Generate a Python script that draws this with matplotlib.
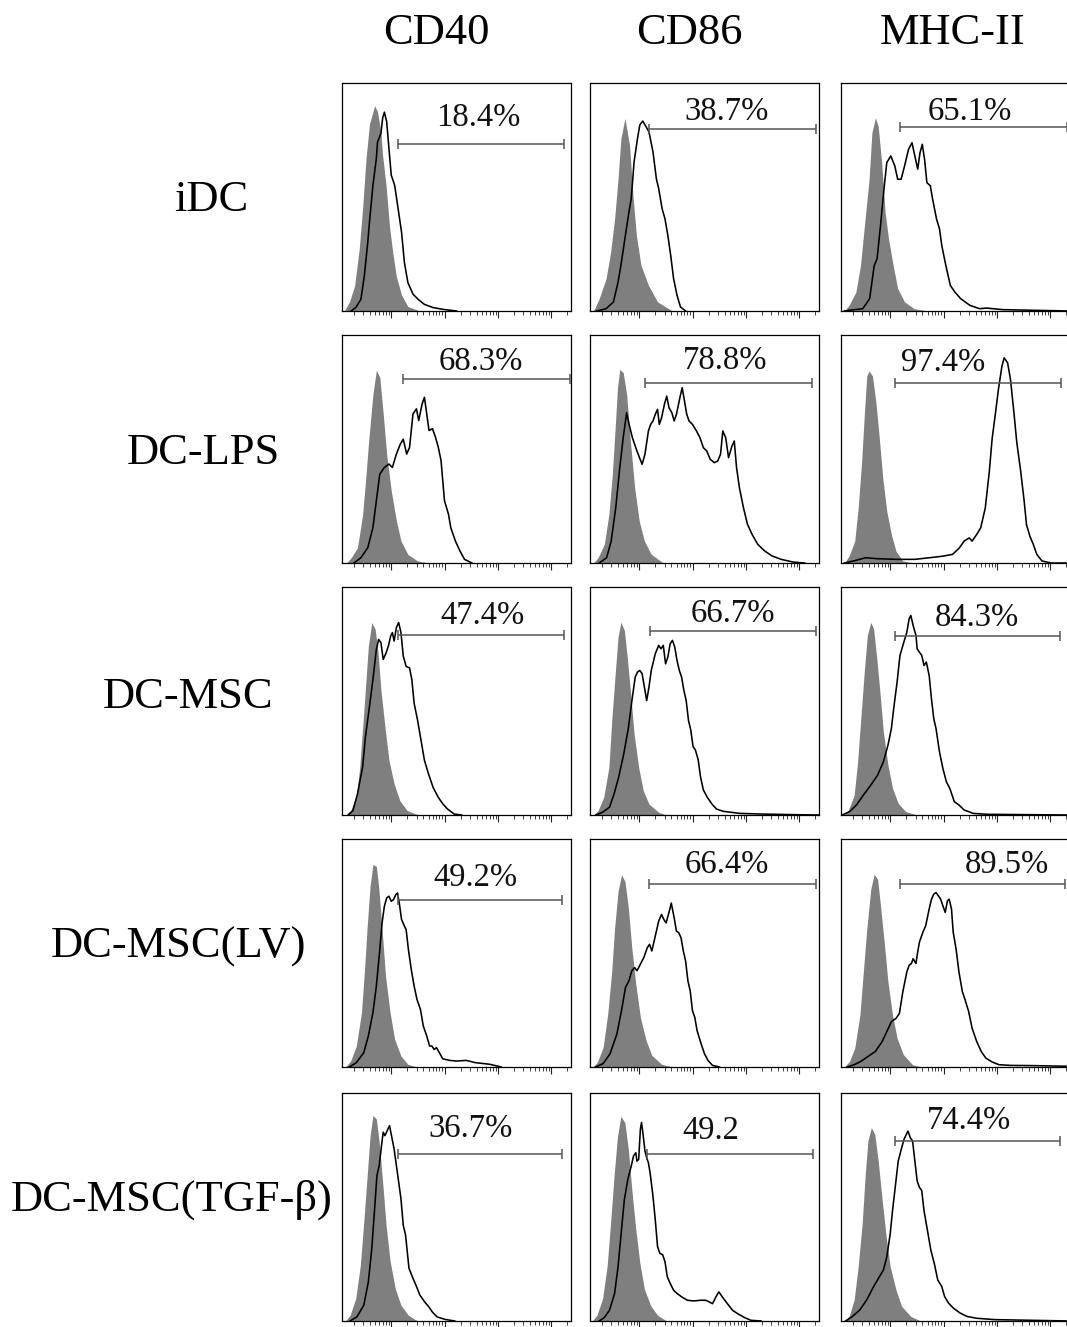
import matplotlib
matplotlib.use('Agg')
import matplotlib.pyplot as plt
import numpy as np

plt.rcParams['font.family'] = ['Liberation Serif', 'DejaVu Serif']

# ---------------- data ----------------
MARKERS = ['CD40', 'CD86', 'MHC-II']
GROUPS = ['iDC', 'DC-LPS', 'DC-MSC', 'DC-MSC(LV)', 'DC-MSC(TGF-β)']

PERCENT = [['18.4%', '38.7%', '65.1%'],
           ['68.3%', '78.8%', '97.4%'],
           ['47.4%', '66.7%', '84.3%'],
           ['49.2%', '66.4%', '89.5%'],
           ['36.7%', '49.2', '74.4%']]

# gate limits on the 0-4 decade display scale, and gate height (fraction of max)
GATE_LO = [[0.98, 1.03, 1.03], [1.06, 0.96, 0.94], [0.97, 1.04, 0.95],
           [0.98, 1.03, 1.03], [0.97, 1.00, 0.94]]
GATE_HI = [[3.87, 3.94, 3.94], [3.98, 3.88, 3.84], [3.88, 3.94, 3.82],
           [3.85, 3.94, 3.92], [3.84, 3.90, 3.82]]
GATE_Y = [[0.731, 0.800, 0.806], [0.805, 0.791, 0.791], [0.788, 0.805, 0.784],
          [0.731, 0.802, 0.804], [0.733, 0.731, 0.790]]

# histograms: (log fluorescence on 0-4 display scale, relative count)
idc_cd40_iso = ([0.04, 0.13, 0.22, 0.30, 0.36, 0.42, 0.48, 0.57, 0.62, 0.68, 0.71, 0.77, 0.83, 0.89, 0.95, 1.04, 1.15, 1.36],
                [0.0, 0.04, 0.11, 0.27, 0.45, 0.67, 0.82, 0.90, 0.875, 0.78, 0.68, 0.55, 0.37, 0.25, 0.15, 0.07, 0.02, 0.0])
idc_cd40 = ([0.16, 0.24, 0.33, 0.39, 0.45, 0.48, 0.54, 0.60, 0.62, 0.68, 0.71, 0.74, 0.78, 0.83, 0.86, 0.92, 0.98, 1.04, 1.09, 1.15, 1.24, 1.33, 1.44, 1.59, 1.77, 2.0],
            [0.0, 0.015, 0.051, 0.154, 0.301, 0.390, 0.551, 0.669, 0.74, 0.779, 0.846, 0.872, 0.831, 0.684, 0.596, 0.551, 0.449, 0.346, 0.213, 0.125, 0.074, 0.051, 0.029, 0.015, 0.007, 0.0])
idc_cd86_iso = ([0.04, 0.08, 0.16, 0.28, 0.36, 0.43, 0.49, 0.54, 0.61, 0.69, 0.75, 0.81, 0.89, 1.02, 1.18, 1.42, 1.6],
                [0.0, 0.01, 0.054, 0.142, 0.258, 0.405, 0.581, 0.757, 0.845, 0.728, 0.508, 0.332, 0.201, 0.113, 0.040, 0.003, 0.0])
idc_cd86 = ([0.12, 0.28, 0.41, 0.49, 0.54, 0.61, 0.68, 0.72, 0.77, 0.83, 0.87, 0.92, 0.98, 1.03, 1.10, 1.16, 1.20, 1.26, 1.31, 1.36, 1.41, 1.46, 1.52, 1.58, 1.67],
            [0.0, 0.010, 0.040, 0.127, 0.200, 0.318, 0.434, 0.493, 0.654, 0.757, 0.816, 0.833, 0.808, 0.786, 0.698, 0.579, 0.537, 0.448, 0.404, 0.331, 0.243, 0.142, 0.069, 0.018, 0.0])
idc_mhc_iso = ([0.06, 0.14, 0.26, 0.34, 0.42, 0.49, 0.54, 0.60, 0.65, 0.71, 0.77, 0.83, 0.91, 0.99, 1.11, 1.28, 1.52],
               [0.0, 0.025, 0.083, 0.199, 0.402, 0.576, 0.782, 0.847, 0.811, 0.651, 0.433, 0.317, 0.201, 0.099, 0.040, 0.010, 0.0])
idc_mhc = ([0.06, 0.14, 0.38, 0.50, 0.58, 0.63, 0.69, 0.75, 0.80, 0.87, 0.94, 0.99, 1.05, 1.11, 1.18, 1.24, 1.29, 1.34, 1.38, 1.42, 1.46, 1.50, 1.56, 1.60, 1.67, 1.72, 1.76, 1.83, 1.91, 1.99, 2.09, 2.25, 2.42, 2.54, 2.66, 2.82, 3.39, 4.0],
           [0.0, 0.003, 0.010, 0.054, 0.199, 0.229, 0.374, 0.534, 0.651, 0.680, 0.636, 0.578, 0.578, 0.636, 0.709, 0.738, 0.680, 0.622, 0.694, 0.731, 0.665, 0.563, 0.549, 0.491, 0.402, 0.361, 0.288, 0.201, 0.112, 0.083, 0.054, 0.025, 0.010, 0.013, 0.010, 0.006, 0.003, 0.0])

lps_cd40_iso = ([0.08, 0.16, 0.27, 0.36, 0.41, 0.47, 0.54, 0.60, 0.66, 0.72, 0.78, 0.86, 0.95, 1.03, 1.15, 1.32, 1.53],
                [0.0, 0.023, 0.067, 0.211, 0.358, 0.548, 0.739, 0.845, 0.815, 0.654, 0.478, 0.317, 0.185, 0.097, 0.038, 0.009, 0.0])
lps_cd40 = ([0.21, 0.33, 0.45, 0.54, 0.60, 0.66, 0.74, 0.82, 0.88, 0.95, 1.02, 1.07, 1.13, 1.18, 1.24, 1.30, 1.34, 1.40, 1.44, 1.48, 1.52, 1.58, 1.63, 1.68, 1.73, 1.79, 1.86, 1.90, 1.98, 2.06, 2.14, 2.27],
            [0.0, 0.023, 0.067, 0.155, 0.273, 0.390, 0.419, 0.434, 0.419, 0.478, 0.522, 0.543, 0.478, 0.507, 0.654, 0.676, 0.625, 0.698, 0.727, 0.654, 0.581, 0.589, 0.554, 0.510, 0.449, 0.273, 0.214, 0.155, 0.097, 0.053, 0.016, 0.0])
lps_cd86_iso = ([0.06, 0.14, 0.25, 0.33, 0.39, 0.44, 0.48, 0.52, 0.58, 0.64, 0.70, 0.78, 0.86, 0.95, 1.07, 1.28],
                [0.0, 0.023, 0.082, 0.213, 0.389, 0.594, 0.769, 0.849, 0.835, 0.740, 0.550, 0.330, 0.184, 0.096, 0.038, 0.0])
lps_cd86 = ([0.16, 0.29, 0.37, 0.45, 0.52, 0.58, 0.64, 0.68, 0.74, 0.82, 0.91, 0.96, 1.02, 1.06, 1.10, 1.14, 1.18, 1.21, 1.25, 1.30, 1.34, 1.38, 1.43, 1.47, 1.51, 1.57, 1.61, 1.65, 1.69, 1.73, 1.79, 1.86, 1.92, 1.98, 2.04, 2.10, 2.17, 2.23, 2.28, 2.32, 2.37, 2.42, 2.48, 2.52, 2.56, 2.61, 2.68, 2.75, 2.83, 2.93, 3.05, 3.18, 3.34, 3.55, 3.75],
            [0.0, 0.023, 0.096, 0.243, 0.418, 0.550, 0.659, 0.611, 0.550, 0.491, 0.433, 0.477, 0.579, 0.608, 0.623, 0.652, 0.674, 0.608, 0.637, 0.696, 0.732, 0.681, 0.659, 0.623, 0.652, 0.725, 0.769, 0.711, 0.652, 0.623, 0.608, 0.579, 0.550, 0.506, 0.491, 0.455, 0.440, 0.447, 0.477, 0.579, 0.550, 0.462, 0.513, 0.535, 0.418, 0.330, 0.243, 0.170, 0.126, 0.082, 0.053, 0.031, 0.016, 0.004, 0.0])
lps_mhc_iso = ([0.06, 0.14, 0.24, 0.30, 0.36, 0.41, 0.45, 0.49, 0.55, 0.61, 0.67, 0.73, 0.80, 0.88, 0.96, 1.08, 1.29],
               [0.0, 0.030, 0.096, 0.241, 0.443, 0.661, 0.820, 0.842, 0.820, 0.704, 0.545, 0.371, 0.226, 0.125, 0.052, 0.009, 0.0])
lps_mhc = ([0.06, 0.22, 0.43, 0.63, 0.96, 1.29, 1.54, 1.78, 1.95, 2.07, 2.15, 2.24, 2.29, 2.37, 2.44, 2.52, 2.59, 2.64, 2.70, 2.75, 2.81, 2.85, 2.91, 2.96, 3.02, 3.07, 3.14, 3.20, 3.24, 3.30, 3.36, 3.42, 3.51, 3.67, 4.0],
           [0.0, 0.009, 0.023, 0.019, 0.016, 0.016, 0.023, 0.030, 0.038, 0.067, 0.096, 0.110, 0.096, 0.125, 0.154, 0.241, 0.400, 0.545, 0.661, 0.762, 0.862, 0.900, 0.878, 0.806, 0.661, 0.530, 0.400, 0.270, 0.168, 0.117, 0.081, 0.038, 0.009, 0.0, 0.0])

msc_cd40_iso = ([0.06, 0.15, 0.25, 0.31, 0.37, 0.42, 0.46, 0.52, 0.58, 0.63, 0.68, 0.75, 0.82, 0.91, 1.01, 1.14, 1.34],
                [0.0, 0.019, 0.078, 0.210, 0.416, 0.593, 0.740, 0.844, 0.814, 0.711, 0.549, 0.387, 0.240, 0.137, 0.063, 0.019, 0.0])
msc_cd40 = ([0.11, 0.19, 0.27, 0.36, 0.41, 0.48, 0.54, 0.60, 0.64, 0.68, 0.72, 0.77, 0.81, 0.85, 0.88, 0.91, 0.95, 0.99, 1.03, 1.07, 1.12, 1.18, 1.22, 1.26, 1.32, 1.38, 1.44, 1.51, 1.59, 1.68, 1.76, 1.84, 1.96, 2.09],
            [0.0, 0.019, 0.092, 0.210, 0.344, 0.476, 0.594, 0.726, 0.770, 0.756, 0.682, 0.711, 0.741, 0.785, 0.800, 0.763, 0.822, 0.844, 0.800, 0.697, 0.652, 0.645, 0.594, 0.490, 0.416, 0.328, 0.240, 0.181, 0.122, 0.078, 0.049, 0.027, 0.004, 0.0])
msc_cd86_iso = ([0.06, 0.14, 0.24, 0.33, 0.38, 0.44, 0.49, 0.54, 0.60, 0.65, 0.71, 0.77, 0.85, 0.93, 1.03, 1.20, 1.34],
                [0.0, 0.019, 0.078, 0.209, 0.414, 0.619, 0.780, 0.846, 0.810, 0.694, 0.531, 0.356, 0.209, 0.107, 0.048, 0.012, 0.0])
msc_cd86 = ([0.10, 0.22, 0.34, 0.42, 0.50, 0.59, 0.67, 0.73, 0.79, 0.83, 0.87, 0.91, 0.95, 0.99, 1.03, 1.07, 1.14, 1.20, 1.24, 1.28, 1.32, 1.36, 1.40, 1.44, 1.48, 1.52, 1.56, 1.60, 1.64, 1.68, 1.72, 1.76, 1.80, 1.84, 1.89, 1.93, 1.98, 2.05, 2.13, 2.21, 2.33, 2.46, 2.62, 3.02, 3.68, 4.0],
            [0.0, 0.012, 0.034, 0.092, 0.165, 0.268, 0.381, 0.498, 0.605, 0.627, 0.634, 0.620, 0.561, 0.502, 0.561, 0.634, 0.707, 0.744, 0.729, 0.744, 0.663, 0.693, 0.751, 0.766, 0.737, 0.678, 0.634, 0.605, 0.546, 0.502, 0.415, 0.373, 0.300, 0.286, 0.242, 0.168, 0.110, 0.077, 0.048, 0.026, 0.016, 0.012, 0.007, 0.004, 0.001, 0.0])
msc_mhc_iso = ([0.05, 0.13, 0.23, 0.29, 0.35, 0.41, 0.46, 0.52, 0.57, 0.62, 0.68, 0.74, 0.82, 0.90, 1.00, 1.13, 1.33],
               [0.0, 0.022, 0.087, 0.233, 0.437, 0.641, 0.787, 0.845, 0.816, 0.700, 0.539, 0.364, 0.219, 0.117, 0.051, 0.015, 0.0])
msc_mhc = ([0.02, 0.15, 0.27, 0.39, 0.52, 0.64, 0.74, 0.82, 0.88, 0.92, 0.98, 1.03, 1.08, 1.15, 1.19, 1.22, 1.26, 1.31, 1.33, 1.37, 1.41, 1.45, 1.49, 1.54, 1.58, 1.62, 1.66, 1.72, 1.78, 1.84, 1.90, 1.98, 2.06, 2.15, 2.31, 2.56, 4.0],
           [0.0, 0.015, 0.044, 0.087, 0.131, 0.175, 0.233, 0.306, 0.379, 0.466, 0.583, 0.700, 0.743, 0.802, 0.860, 0.875, 0.831, 0.787, 0.729, 0.714, 0.700, 0.656, 0.671, 0.612, 0.510, 0.423, 0.379, 0.277, 0.204, 0.146, 0.117, 0.058, 0.044, 0.022, 0.007, 0.003, 0.0])

lv_cd40_iso = ([0.06, 0.15, 0.25, 0.34, 0.39, 0.44, 0.49, 0.54, 0.60, 0.64, 0.70, 0.76, 0.84, 0.92, 1.03, 1.15, 1.31],
               [0.0, 0.026, 0.092, 0.238, 0.413, 0.617, 0.792, 0.888, 0.880, 0.792, 0.603, 0.399, 0.238, 0.121, 0.048, 0.012, 0.0])
lv_cd40 = ([0.13, 0.25, 0.38, 0.46, 0.54, 0.60, 0.66, 0.70, 0.74, 0.78, 0.82, 0.86, 0.90, 0.94, 0.97, 1.00, 1.04, 1.09, 1.12, 1.16, 1.21, 1.26, 1.31, 1.37, 1.42, 1.48, 1.53, 1.57, 1.61, 1.65, 1.70, 1.76, 1.88, 2.00, 2.17, 2.33, 2.58, 2.78],
           [0.0, 0.019, 0.063, 0.136, 0.238, 0.355, 0.515, 0.632, 0.705, 0.741, 0.749, 0.727, 0.734, 0.756, 0.763, 0.720, 0.647, 0.618, 0.603, 0.515, 0.428, 0.355, 0.296, 0.253, 0.180, 0.136, 0.092, 0.092, 0.077, 0.085, 0.063, 0.036, 0.029, 0.026, 0.029, 0.019, 0.012, 0.0])
lv_cd86_iso = ([0.05, 0.13, 0.23, 0.31, 0.38, 0.43, 0.49, 0.55, 0.61, 0.67, 0.73, 0.80, 0.88, 0.98, 1.08, 1.25, 1.45],
               [0.0, 0.022, 0.087, 0.233, 0.422, 0.610, 0.770, 0.843, 0.814, 0.698, 0.523, 0.363, 0.218, 0.116, 0.051, 0.012, 0.0])
lv_cd86 = ([0.10, 0.23, 0.35, 0.47, 0.55, 0.62, 0.68, 0.73, 0.78, 0.82, 0.88, 0.94, 1.00, 1.04, 1.08, 1.12, 1.16, 1.20, 1.25, 1.29, 1.33, 1.37, 1.40, 1.42, 1.47, 1.51, 1.55, 1.59, 1.63, 1.67, 1.71, 1.75, 1.79, 1.83, 1.87, 1.94, 2.00, 2.06, 2.14, 2.26],
           [0.0, 0.015, 0.058, 0.145, 0.247, 0.349, 0.378, 0.422, 0.436, 0.422, 0.451, 0.480, 0.523, 0.538, 0.509, 0.552, 0.596, 0.640, 0.669, 0.647, 0.632, 0.669, 0.698, 0.719, 0.654, 0.596, 0.589, 0.567, 0.509, 0.465, 0.378, 0.334, 0.247, 0.218, 0.160, 0.102, 0.058, 0.029, 0.007, 0.0])
lv_mhc_iso = ([0.06, 0.15, 0.24, 0.33, 0.39, 0.45, 0.52, 0.58, 0.64, 0.69, 0.76, 0.82, 0.90, 0.98, 1.09, 1.25, 1.41],
              [0.0, 0.025, 0.083, 0.228, 0.417, 0.605, 0.780, 0.845, 0.823, 0.707, 0.534, 0.373, 0.228, 0.126, 0.054, 0.010, 0.0])
lv_mhc = ([0.11, 0.23, 0.35, 0.47, 0.60, 0.72, 0.80, 0.88, 0.96, 1.02, 1.08, 1.15, 1.19, 1.23, 1.26, 1.31, 1.33, 1.37, 1.43, 1.48, 1.54, 1.58, 1.62, 1.66, 1.70, 1.74, 1.78, 1.82, 1.86, 1.89, 1.93, 1.96, 2.01, 2.06, 2.12, 2.16, 2.23, 2.29, 2.37, 2.45, 2.53, 2.64, 2.76, 2.96, 3.37, 4.0],
          [0.0, 0.010, 0.025, 0.046, 0.068, 0.112, 0.155, 0.199, 0.213, 0.235, 0.330, 0.417, 0.446, 0.454, 0.475, 0.454, 0.490, 0.548, 0.591, 0.620, 0.693, 0.736, 0.758, 0.765, 0.751, 0.736, 0.707, 0.678, 0.729, 0.736, 0.693, 0.591, 0.518, 0.417, 0.330, 0.301, 0.243, 0.170, 0.112, 0.068, 0.039, 0.022, 0.010, 0.007, 0.006, 0.003])

tgf_cd40_iso = ([0.06, 0.14, 0.24, 0.32, 0.38, 0.44, 0.49, 0.54, 0.60, 0.65, 0.71, 0.77, 0.84, 0.93, 1.03, 1.16, 1.32],
                [0.0, 0.025, 0.098, 0.244, 0.434, 0.638, 0.812, 0.901, 0.886, 0.784, 0.609, 0.420, 0.263, 0.142, 0.069, 0.025, 0.0])
tgf_cd40 = ([0.14, 0.26, 0.38, 0.46, 0.52, 0.57, 0.61, 0.65, 0.69, 0.72, 0.75, 0.79, 0.83, 0.87, 0.91, 0.95, 0.99, 1.03, 1.07, 1.11, 1.17, 1.24, 1.29, 1.36, 1.44, 1.52, 1.58, 1.66, 1.80, 1.97],
            [0.0, 0.018, 0.069, 0.171, 0.317, 0.492, 0.638, 0.682, 0.769, 0.828, 0.813, 0.835, 0.857, 0.806, 0.755, 0.682, 0.609, 0.536, 0.420, 0.377, 0.231, 0.187, 0.158, 0.114, 0.085, 0.061, 0.039, 0.018, 0.007, 0.0])
tgf_cd86_iso = ([0.04, 0.12, 0.22, 0.30, 0.36, 0.42, 0.48, 0.54, 0.61, 0.67, 0.73, 0.80, 0.87, 0.95, 1.06, 1.18, 1.34],
                [0.0, 0.025, 0.098, 0.243, 0.432, 0.636, 0.810, 0.898, 0.869, 0.752, 0.577, 0.402, 0.256, 0.140, 0.067, 0.025, 0.0])
tgf_cd86 = ([0.16, 0.25, 0.34, 0.43, 0.49, 0.55, 0.60, 0.66, 0.72, 0.76, 0.80, 0.82, 0.85, 0.88, 0.90, 0.93, 0.96, 0.99, 1.02, 1.05, 1.10, 1.14, 1.18, 1.22, 1.27, 1.31, 1.35, 1.40, 1.46, 1.52, 1.60, 1.70, 1.81, 1.93, 2.02, 2.08, 2.14, 2.20, 2.25, 2.31, 2.40, 2.49, 2.58, 2.70, 2.81, 2.99],
            [0.0, 0.015, 0.047, 0.121, 0.238, 0.400, 0.532, 0.621, 0.679, 0.724, 0.738, 0.701, 0.709, 0.841, 0.871, 0.812, 0.746, 0.716, 0.694, 0.650, 0.547, 0.444, 0.326, 0.297, 0.290, 0.260, 0.194, 0.165, 0.135, 0.121, 0.106, 0.091, 0.088, 0.091, 0.091, 0.084, 0.076, 0.106, 0.128, 0.106, 0.076, 0.047, 0.032, 0.015, 0.003, 0.0])
tgf_mhc_iso = ([0.06, 0.14, 0.23, 0.30, 0.37, 0.42, 0.47, 0.53, 0.59, 0.65, 0.72, 0.79, 0.86, 0.96, 1.06, 1.22, 1.39],
               [0.0, 0.020, 0.093, 0.238, 0.427, 0.630, 0.790, 0.848, 0.819, 0.702, 0.528, 0.368, 0.238, 0.137, 0.064, 0.020, 0.0])
tgf_mhc = ([0.08, 0.20, 0.33, 0.45, 0.57, 0.67, 0.74, 0.80, 0.86, 0.90, 0.96, 1.00, 1.06, 1.10, 1.14, 1.17, 1.21, 1.25, 1.29, 1.33, 1.37, 1.41, 1.45, 1.51, 1.57, 1.63, 1.69, 1.76, 1.81, 1.88, 1.96, 2.08, 2.20, 2.37, 2.69, 4.0],
           [0.0, 0.020, 0.049, 0.093, 0.151, 0.194, 0.223, 0.281, 0.383, 0.484, 0.615, 0.702, 0.760, 0.796, 0.818, 0.833, 0.804, 0.790, 0.702, 0.615, 0.586, 0.572, 0.484, 0.397, 0.310, 0.252, 0.180, 0.151, 0.107, 0.078, 0.057, 0.035, 0.020, 0.012, 0.006, 0.0])

ISO = [[idc_cd40_iso, idc_cd86_iso, idc_mhc_iso],
       [lps_cd40_iso, lps_cd86_iso, lps_mhc_iso],
       [msc_cd40_iso, msc_cd86_iso, msc_mhc_iso],
       [lv_cd40_iso, lv_cd86_iso, lv_mhc_iso],
       [tgf_cd40_iso, tgf_cd86_iso, tgf_mhc_iso]]
STAIN = [[idc_cd40, idc_cd86, idc_mhc],
         [lps_cd40, lps_cd86, lps_mhc],
         [msc_cd40, msc_cd86, msc_mhc],
         [lv_cd40, lv_cd86, lv_mhc],
         [tgf_cd40, tgf_cd86, tgf_mhc]]

# ---------------- layout ----------------
W, H = 1067, 1327
COL_X = [342, 590, 841]
ROW_Y = [83, 335, 587, 839, 1093]
PW, PH = 229, 228
HEAD_X = [436, 689, 953]
HEAD_Y = 33
LABEL_X = [211, 203, 188, 179, 172]
LABEL_Y = [200, 453, 697, 947, 1200]
TEXT_XY = [[(0.595, 0.848), (0.596, 0.874), (0.563, 0.876)],
           [(0.608, 0.881), (0.588, 0.886), (0.446, 0.878)],
           [(0.614, 0.876), (0.624, 0.883), (0.594, 0.867)],
           [(0.582, 0.829), (0.597, 0.887), (0.725, 0.888)],
           [(0.563, 0.842), (0.526, 0.834), (0.561, 0.877)]]

# frame of the cytometer axis covers 10^0.075 .. 10^4.37 (decade ticks)
AX_LO, AX_HI = 0.075, 4.37
GRAY = '#7f7f7f'


def to_axis(d):
    return 10 ** (AX_LO + np.asarray(d) * (AX_HI - AX_LO) / 4.0)


fig = plt.figure(figsize=(W / 100, H / 100), dpi=100)
fig.patch.set_facecolor('white')

for r in range(5):
    for c in range(3):
        ax = fig.add_axes([COL_X[c] / W, 1 - (ROW_Y[r] + PH) / H, PW / W, PH / H])
        ix, iy = ISO[r][c]
        sx, sy = STAIN[r][c]
        ax.fill_between(to_axis(ix), iy, 0, color=GRAY, lw=0, zorder=1)
        ax.plot(to_axis(sx), sy, color='black', lw=1.15, zorder=3)

        g0, g1 = to_axis([GATE_LO[r][c], GATE_HI[r][c]])
        gy = GATE_Y[r][c]
        ax.hlines(gy, g0, g1, color='#555555', lw=1.1, zorder=4)
        ax.vlines([g0, g1], gy - 0.022, gy + 0.022, color='#555555', lw=1.1, zorder=4)
        tx, ty = TEXT_XY[r][c]
        ax.text(tx, ty, PERCENT[r][c], transform=ax.transAxes, ha='center',
                va='center', fontsize=23.5, color='#111111')

        ax.set_xscale('log')
        ax.set_xlim(10 ** AX_LO, 10 ** AX_HI)
        ax.set_ylim(0, 1)
        ax.set_yticks([])
        ax.tick_params(axis='x', which='major', direction='out', length=5,
                       width=0.8, labelbottom=False, color='#222222')
        ax.tick_params(axis='x', which='minor', direction='out', length=3,
                       width=0.6, labelbottom=False, color='#222222')
        for sp in ax.spines.values():
            sp.set_linewidth(0.9)
            sp.set_edgecolor('black')

for c, m in enumerate(MARKERS):
    fig.text(HEAD_X[c] / W, 1 - HEAD_Y / H, m, ha='center', va='center',
             fontsize=32, color='black')

for r, g in enumerate(GROUPS):
    fig.text(LABEL_X[r] / W, 1 - LABEL_Y[r] / H, g, ha='center', va='center',
             fontsize=32, color='black')

fig.savefig('out.png', dpi=100, facecolor='white')
